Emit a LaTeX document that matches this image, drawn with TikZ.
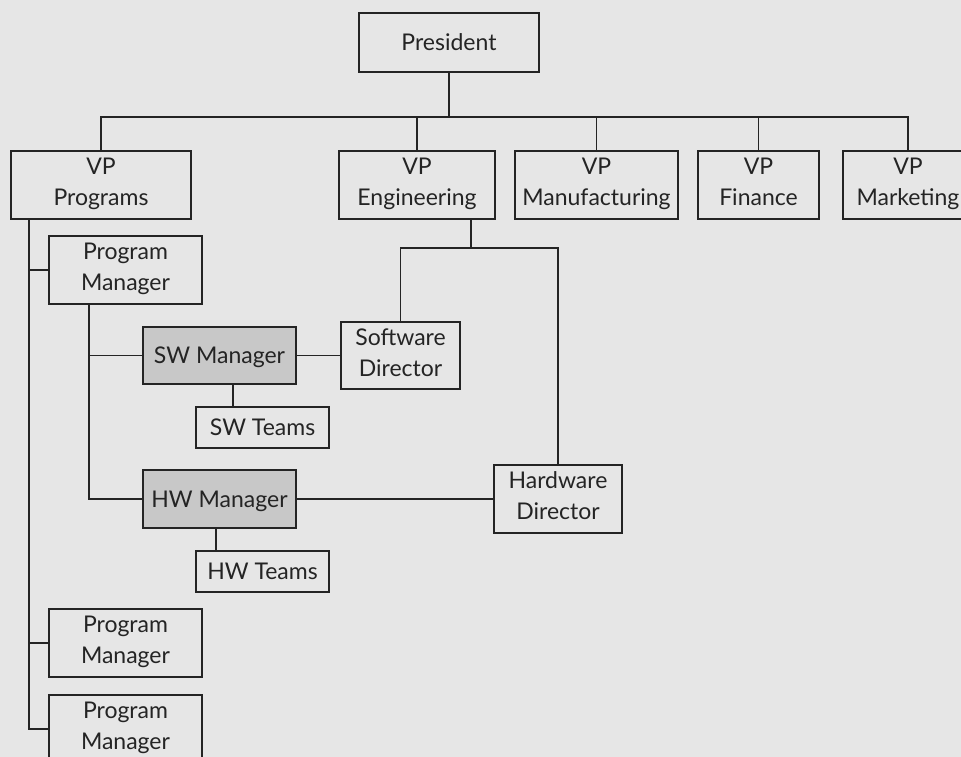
\documentclass[tikz,border=0pt]{standalone}
\usepackage{fontspec}
\setmainfont{Lato}
\definecolor{pagebg}{HTML}{E6E6E6}
\definecolor{mgrfill}{HTML}{C8C8C8}
\definecolor{ink}{HTML}{242424}
% invisible strut that centres capitals in each box
\newcommand{\capstrut}{\rule[-6pt]{0pt}{28.5pt}}
\begin{document}
\begin{tikzpicture}[x=1pt,y=-1pt,
  box/.style={draw=ink, line width=2.6pt, rectangle, inner sep=0pt, align=center,
    font=\fontsize{23}{31}\selectfont, text=ink,
    execute at begin node={\capstrut}, execute at end node={\capstrut}},
  mgr/.style={box, fill=mgrfill},
  link/.style={draw=ink, line width=1.3pt}]
  \useasboundingbox (0,0) rectangle (961,757);
  \fill[pagebg] (0,0) rectangle (961,757);
  \clip (0,0) rectangle (961,757);

  % top levels
  \node[box, minimum width=180, minimum height=59] (pres) at (449,42.5) {President};
  \node[box, minimum width=180, minimum height=68] (vpprog) at (101,185) {VP\\Programs};
  \node[box, minimum width=156, minimum height=68] (vpeng) at (417,185) {VP\\Engineering};
  \node[box, minimum width=163, minimum height=68] (vpman) at (596.5,185) {VP\\Manufacturing};
  \node[box, minimum width=121, minimum height=68] (vpfin) at (758.5,185) {VP\\Finance};
  \node[box, minimum width=130, minimum height=68] (vpmkt) at (908,185) {VP\\Marketing};

  % programs branch
  \node[box, minimum width=153, minimum height=68] (pm1) at (125.5,270) {Program\\Manager};
  \node[mgr, minimum width=153, minimum height=57] (swm) at (219.5,355.5) {SW Manager};
  \node[box, minimum width=133, minimum height=41] (swt) at (262.5,427.5) {SW Teams};
  \node[mgr, minimum width=153, minimum height=58] (hwm) at (219.5,499) {HW Manager};
  \node[box, minimum width=133, minimum height=41] (hwt) at (262.5,571.5) {HW Teams};
  \node[box, minimum width=153, minimum height=68] (pm2) at (125.5,643) {Program\\Manager};
  \node[box, minimum width=153, minimum height=68] (pm3) at (125.5,729) {Program\\Manager};

  % engineering branch
  \node[box, minimum width=119, minimum height=67] (swd) at (400.5,355.5) {Software\\Director};
  \node[box, minimum width=128, minimum height=68] (hwd) at (558,499) {Hardware\\Director};

  % junction points
  \coordinate (bus) at (449,117);
  \coordinate (engbus) at (0,248);
  \coordinate (spine) at ([xshift=-72]vpprog.south);
  \coordinate (pmstem) at ([xshift=-36.5]pm1.south);

  % president to vice presidents
  \draw[link] (pres.south) -- (bus);
  \foreach \v in {vpprog,vpeng,vpman,vpfin,vpmkt}
    \draw[link] (\v.north) |- (bus);

  % programs spine
  \draw[link] (spine) |- (pm3.west);
  \draw[link] (pm1.west) -- (pm1.west -| spine);
  \draw[link] (pm2.west) -- (pm2.west -| spine);

  % program manager to functional managers
  \draw[link] (pmstem) |- (hwm.west);
  \draw[link] (swm.west) -- (swm.west -| pmstem);
  \draw[link] ([xshift=-29.5]swt.north) -- ([xshift=-29.5]swt.north |- swm.south);
  \draw[link] ([xshift=-46.5]hwt.north) -- ([xshift=-46.5]hwt.north |- hwm.south);

  % directors
  \draw[link] (swm.east) -- (swd.west);
  \draw[link] (hwm.east) -- (hwd.west);
  \draw[link] ([xshift=54]vpeng.south) -- ([xshift=54]vpeng.south |- engbus);
  \draw[link] (swd.north) |- (hwd.north |- engbus) -- (hwd.north);
\end{tikzpicture}
\end{document}
